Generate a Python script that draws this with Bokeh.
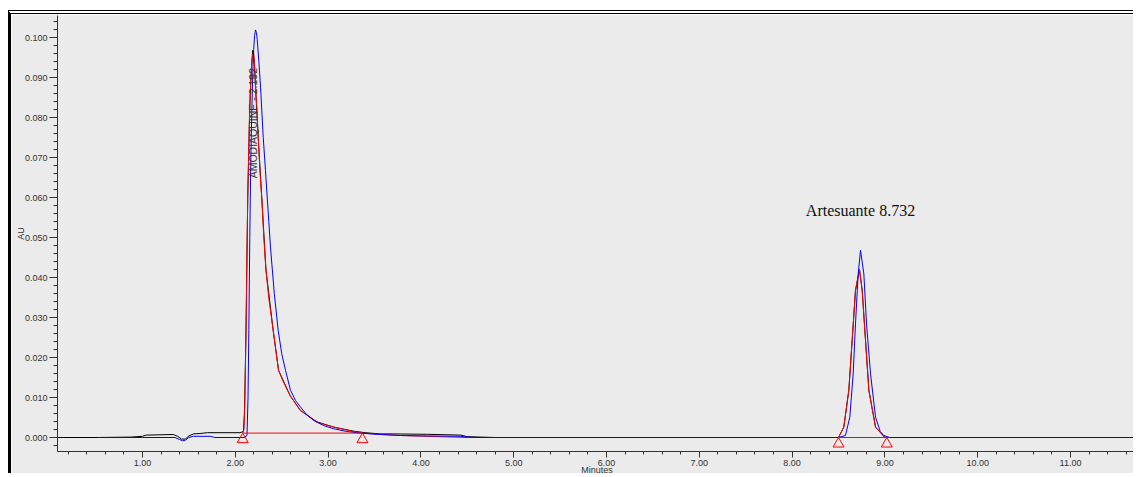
import math
from bokeh.plotting import figure
from bokeh.models import Range1d, SingleIntervalTicker, NumeralTickFormatter
from bokeh.embed import file_html
from bokeh.resources import INLINE
from bokeh.core.properties import value

# ---------------- data (minutes, AU) ----------------
black_trace = [(0.084, 0.0), (0.51, 0.0), (0.87, 0.0001), (1.00, 0.0003), (1.04, 0.0006),
               (1.33, 0.00075), (1.38, 0.0003), (1.42, -0.0004), (1.46, -0.0004), (1.50, 0.0004),
               (1.55, 0.0009), (1.62, 0.0010), (1.70, 0.0012), (2.05, 0.0012), (2.088, 0.0015),
               (2.100, 0.007), (2.116, 0.028), (2.134, 0.060), (2.156, 0.083), (2.175, 0.093),
               (2.188, 0.0968), (2.197, 0.0962), (2.207, 0.093), (2.218, 0.0876), (2.247, 0.075),
               (2.289, 0.0584), (2.330, 0.0420), (2.408, 0.0268), (2.466, 0.0168), (2.590, 0.0105),
               (2.700, 0.0068), (2.880, 0.0039), (3.060, 0.0026), (3.270, 0.0016), (3.400, 0.0012),
               (3.560, 0.0009), (3.700, 0.0009), (4.070, 0.0008), (4.430, 0.0006), (4.500, 0.0002),
               (4.800, 0.0), (8.500, 0.0), (8.557, 0.0026), (8.611, 0.0118), (8.647, 0.0243),
               (8.683, 0.0368), (8.726, 0.0420), (8.755, 0.0368), (8.791, 0.0243), (8.827, 0.0118),
               (8.899, 0.0026), (9.000, 0.0), (11.711, 0.0)]

blue_trace = [(0.51, 0.0), (1.00, 0.0), (1.35, 0.0), (1.40, -0.0005), (1.43, -0.0008),
              (1.46, -0.0007), (1.50, 0.0), (1.55, 0.0003), (1.73, 0.0003), (1.78, 0.0),
              (2.094, 0.0), (2.126, 0.0005), (2.137, 0.010), (2.146, 0.027), (2.156, 0.050),
              (2.166, 0.068), (2.178, 0.082), (2.190, 0.092), (2.198, 0.097), (2.208, 0.1005),
              (2.218, 0.1019), (2.228, 0.1012), (2.236, 0.0995), (2.254, 0.094), (2.272, 0.0876),
              (2.301, 0.075), (2.325, 0.0668), (2.361, 0.054), (2.379, 0.0476), (2.420, 0.036),
              (2.462, 0.0268), (2.500, 0.021), (2.541, 0.0168), (2.595, 0.0118), (2.650, 0.0092),
              (2.703, 0.0076), (2.770, 0.0057), (2.843, 0.0043), (2.950, 0.0030), (3.058, 0.0022),
              (3.200, 0.0015), (3.349, 0.0011), (3.532, 0.0008), (3.780, 0.0005), (4.000, 0.0004),
              (4.430, 0.0003), (4.500, 0.0001), (4.600, 0.0), (8.500, 0.0), (8.575, 0.0005),
              (8.622, 0.0051), (8.658, 0.0159), (8.683, 0.0284), (8.712, 0.0409), (8.737, 0.0468),
              (8.773, 0.0409), (8.802, 0.0284), (8.845, 0.0159), (8.899, 0.0051), (8.950, 0.0015),
              (8.988, 0.0005), (9.050, 0.0), (11.711, 0.0)]

red_trace = [(2.080, 0.0011), (2.093, 0.002), (2.100, 0.006), (2.108, 0.016), (2.116, 0.027),
             (2.125, 0.045), (2.134, 0.060), (2.145, 0.072), (2.156, 0.083), (2.168, 0.090),
             (2.180, 0.0945), (2.188, 0.0958), (2.197, 0.0955), (2.207, 0.093), (2.218, 0.0876),
             (2.232, 0.082), (2.247, 0.075), (2.265, 0.0668), (2.289, 0.0584), (2.307, 0.0500),
             (2.330, 0.0420), (2.360, 0.0350), (2.408, 0.0268), (2.466, 0.0168), (2.510, 0.0143),
             (2.590, 0.0105), (2.700, 0.0068), (2.880, 0.0038), (3.060, 0.0026), (3.270, 0.0015),
             (3.370, 0.0011), (3.532, 0.0008), (3.780, 0.0005), (4.500, 0.0), (8.500, 0.0),
             (8.557, 0.0026), (8.611, 0.0118), (8.647, 0.0243), (8.683, 0.0368), (8.726, 0.0420),
             (8.755, 0.0368), (8.791, 0.0243), (8.827, 0.0118), (8.899, 0.0026), (9.000, 0.0),
             (11.711, 0.0)]

# integration baselines (start, end, level)
base_start = [2.08, 8.50]
base_end = [3.37, 9.02]
base_level = [0.0011, 0.0]

# integration markers
marker_times = [2.08, 3.37, 8.50, 9.02]
marker_levels = [0.0011, 0.0011, 0.0, 0.0]

# peak labels
peak_labels = ["AMODIAQUINE - 2.192", "Artesuante 8.732"]
peak_label_x = [2.192, 8.737]
peak_label_y = [0.0648, 0.0567]

x_ticks_interval = 1.0
y_ticks_interval = 0.01
x_title = "Minutes"
y_title = "AU"

X0, X1 = 0.084, 11.711
Y0, Y1 = -0.0035, 0.1055

BG = "#EBEBEB"
AXC = "#333333"

p = figure(width=1125, height=463, output_backend="svg", toolbar_location=None,
           x_range=Range1d(X0, X1), y_range=Range1d(Y0, Y1),
           min_border_left=46, min_border_right=0, min_border_top=1, min_border_bottom=26,
           background_fill_color=BG, border_fill_color=BG)
p.outline_line_color = None
p.grid.visible = False
p.styles = {"margin-left": "8px", "margin-top": "10px",
            "border-left": "3px solid #000", "border-top": "4px double #000"}

def unzip(tr):
    return [a for a, _ in tr], [b for _, b in tr]

bx, by = unzip(black_trace)
rx, ry = unzip(red_trace)
ux, uy = unzip(blue_trace)
p.line(bx, by, line_color="#000000", line_width=1)
p.line(rx, ry, line_color="#FF0000", line_width=1)
p.line(ux, uy, line_color="#0000FF", line_width=1)

p.segment(x0=base_start, y0=base_level, x1=base_end, y1=base_level,
          line_color="#FF0000", line_width=1)

TRI = 11
frame_px = 436.0
apex_off = (TRI / 2.0) * math.sqrt(3) * 2.0 / 3.0 * (Y1 - Y0) / frame_px
p.scatter(marker_times, [v - apex_off for v in marker_levels], marker="triangle",
          size=TRI, fill_alpha=0, line_color="#FF0000", line_width=1)

# peak labels
p.text(x=[peak_label_x[0]], y=[peak_label_y[0]], text=[peak_labels[0]], angle=math.pi / 2,
       text_align="left", text_baseline="middle", text_font=value("Liberation Sans"),
       text_font_size="10.5px", text_color="#333333")
p.text(x=[peak_label_x[1]], y=[peak_label_y[1]], text=[peak_labels[1]],
       text_align="center", text_baseline="alphabetic", text_font=value("Liberation Serif"),
       text_font_size="16px", text_color="#111111")

# axes
for ax in (p.xaxis[0], p.yaxis[0]):
    ax.axis_line_color = AXC
    ax.major_tick_line_color = AXC
    ax.minor_tick_line_color = AXC
    ax.major_label_text_color = AXC
    ax.major_label_text_font = "Liberation Sans"
    ax.major_label_text_font_size = "9px"
    ax.major_tick_in = 0
    ax.minor_tick_in = 0
    ax.major_label_standoff = 2
    ax.axis_label_text_font = "Liberation Sans"
    ax.axis_label_text_font_size = "9px"
    ax.axis_label_text_font_style = "normal"
    ax.axis_label_text_color = AXC
    ax.axis_label_standoff = -4

p.xaxis.ticker = SingleIntervalTicker(interval=x_ticks_interval, num_minor_ticks=5)
p.xaxis.formatter = NumeralTickFormatter(format="0.00")
p.xaxis.major_tick_out = 6
p.xaxis.minor_tick_out = 3
p.xaxis.axis_label = x_title

p.yaxis.ticker = SingleIntervalTicker(interval=y_ticks_interval, num_minor_ticks=5)
p.yaxis.formatter = NumeralTickFormatter(format="0.000")
p.yaxis.major_tick_out = 8
p.yaxis.minor_tick_out = 4
p.yaxis.axis_label = y_title

open("out.html", "w").write(file_html(p, INLINE))
